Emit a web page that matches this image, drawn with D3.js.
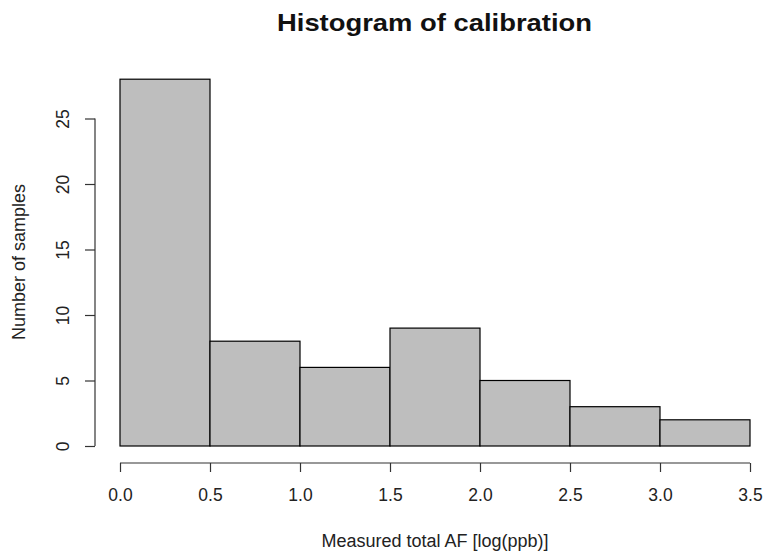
<!DOCTYPE html>
<html><head><meta charset="utf-8">
<script src="https://cdn.jsdelivr.net/npm/d3@7"></script>
<style>body{margin:0;background:#fff}svg{display:block}text{font-family:"Liberation Sans",Arial,sans-serif}</style>
</head><body>
<svg id="c" width="766" height="556"></svg>
<script>
const binStarts = [0.0, 0.5, 1.0, 1.5, 2.0, 2.5, 3.0];
const binWidth = 0.5;
const counts = [28, 8, 6, 9, 5, 3, 2];
const xTicks = [0.0, 0.5, 1.0, 1.5, 2.0, 2.5, 3.0, 3.5];
const yTicks = [0, 5, 10, 15, 20, 25];
const title = "Histogram of calibration";
const xLabel = "Measured total AF [log(ppb)]";
const yLabel = "Number of samples";

const svg = d3.select("#c");
const x = d3.scaleLinear().domain([0, 3.5]).range([120, 750]);
const y = d3.scaleLinear().domain([0, 25]).range([446, 118.5]);

svg.selectAll("rect.bar").data(counts).enter().append("rect")
  .attr("class","bar")
  .attr("x",(d,i)=>x(binStarts[i]))
  .attr("width",(d,i)=>x(binStarts[i]+binWidth)-x(binStarts[i]))
  .attr("y",d=>y(d))
  .attr("height",d=>y(0)-y(d))
  .attr("fill","#bebebe").attr("stroke","#000").attr("stroke-width",1.2);

const xAxis = svg.append("g").attr("transform","translate(0,463)")
  .call(d3.axisBottom(x).tickValues(xTicks).tickFormat(d3.format(".1f")).tickSize(9).tickPadding(0));
xAxis.select(".domain").attr("stroke","#333").attr("stroke-width",1.2).attr("d",`M${x(0)},0H${x(3.5)}`);
xAxis.selectAll(".tick line").attr("stroke","#333").attr("stroke-width",1.2);
xAxis.selectAll("text").attr("font-size","17.5px").attr("fill","#222").attr("y",38).attr("dy",0);

const yAxis = svg.append("g").attr("transform","translate(95,0)")
  .call(d3.axisLeft(y).tickValues(yTicks).tickSize(10).tickPadding(0));
yAxis.select(".domain").attr("stroke","#333").attr("stroke-width",1.2).attr("d",`M0,${y(0)}V${y(25)}`);
yAxis.selectAll(".tick line").attr("stroke","#333").attr("stroke-width",1.2);
yAxis.selectAll("text").attr("font-size","17.5px").attr("fill","#222")
  .attr("transform","translate(-26,0) rotate(-90)").attr("x",0).attr("y",0).attr("dy","0").attr("text-anchor","middle");

svg.append("text").attr("x",434.5).attr("y",30.5).attr("text-anchor","middle")
  .attr("font-size","24px").attr("font-weight","bold").attr("fill","#111")
  .attr("textLength",315).attr("lengthAdjust","spacingAndGlyphs").text(title);
svg.append("text").attr("x",435).attr("y",547).attr("text-anchor","middle")
  .attr("font-size","18px").attr("fill","#222").text(xLabel);
svg.append("text").attr("transform","translate(25,262) rotate(-90)").attr("text-anchor","middle")
  .attr("font-size","18px").attr("fill","#222").text(yLabel);
</script>
</body></html>
